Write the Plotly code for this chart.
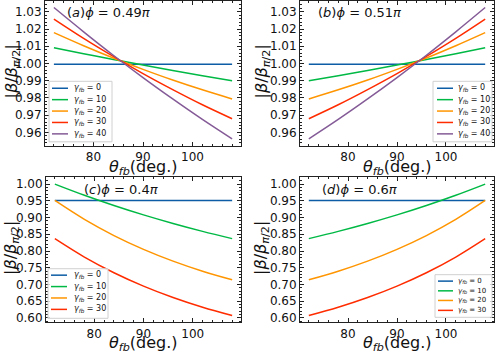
import plotly.graph_objects as go

# theta_fb sample points (deg.)
theta = [72, 78, 84, 90, 96, 102, 108]

# (a) phi = 0.49 pi
a_g0 = [0.9995, 0.9995, 0.9995, 0.9995, 0.9995, 0.9995, 0.9995]
a_g10 = [1.0092, 1.0057, 1.0023, 0.9991, 0.9959, 0.9929, 0.9900]
a_g20 = [1.0179, 1.0103, 1.0032, 0.9966, 0.9904, 0.9847, 0.9794]
a_g30 = [1.0258, 1.0146, 1.0041, 0.9941, 0.9848, 0.9760, 0.9679]
a_g40 = [1.0325, 1.0184, 1.0048, 0.9918, 0.9794, 0.9675, 0.9562]

# (b) phi = 0.51 pi
b_g0 = [0.9995, 0.9995, 0.9995, 0.9995, 0.9995, 0.9995, 0.9995]
b_g10 = [0.9900, 0.9929, 0.9959, 0.9991, 1.0023, 1.0057, 1.0092]
b_g20 = [0.9794, 0.9847, 0.9904, 0.9966, 1.0032, 1.0103, 1.0179]
b_g30 = [0.9679, 0.9760, 0.9848, 0.9941, 1.0041, 1.0146, 1.0258]
b_g40 = [0.9562, 0.9675, 0.9794, 0.9918, 1.0048, 1.0184, 1.0325]

# (c) phi = 0.4 pi
c_g0 = [0.951, 0.951, 0.951, 0.951, 0.951, 0.951, 0.951]
c_g10 = [1.000, 0.9666, 0.9360, 0.9079, 0.8822, 0.8586, 0.8370]
c_g20 = [0.951, 0.8945, 0.8462, 0.8050, 0.7698, 0.7397, 0.7140]
c_g30 = [0.837, 0.7820, 0.7351, 0.6951, 0.6610, 0.6319, 0.6071]

# (d) phi = 0.6 pi
d_g0 = [0.951, 0.951, 0.951, 0.951, 0.951, 0.951, 0.951]
d_g10 = [0.8370, 0.8586, 0.8822, 0.9079, 0.9360, 0.9666, 1.000]
d_g20 = [0.7140, 0.7397, 0.7698, 0.8050, 0.8462, 0.8945, 0.951]
d_g30 = [0.6071, 0.6319, 0.6610, 0.6951, 0.7351, 0.7820, 0.837]

gammas = ["0", "10", "20", "30", "40"]
colors = ["#0C5DA5", "#00B945", "#FF9500", "#FF2C00", "#845B97"]

panels = [
    ("x", "y", [a_g0, a_g10, a_g20, a_g30, a_g40]),
    ("x2", "y2", [b_g0, b_g10, b_g20, b_g30, b_g40]),
    ("x3", "y3", [c_g0, c_g10, c_g20, c_g30]),
    ("x4", "y4", [d_g0, d_g10, d_g20, d_g30]),
]

W, H = 499, 357
FONT = "DejaVu Sans"
INK = "#111"

fig = go.Figure()
for xa, ya, series in panels:
    for i, vals in enumerate(series):
        fig.add_trace(go.Scatter(
            x=theta, y=vals, mode="lines", xaxis=xa, yaxis=ya, showlegend=False,
            line=dict(color=colors[i], width=1.5, shape="spline"),
            name="γfb = " + gammas[i],
        ))

# plot boxes in pixels (left, right, top, bottom)
boxes = {
    "1": (45, 241, 1, 147),
    "2": (300, 494, 1, 147),
    "3": (46, 241, 179, 325),
    "4": (300, 494, 179, 325),
}
yranges = {"1": [0.9522, 1.0363], "2": [0.9522, 1.0363],
           "3": [0.587, 1.0197], "4": [0.587, 1.0197]}
ydt = {"1": (0.01, 0.002), "2": (0.01, 0.002), "3": (0.05, 0.01), "4": (0.05, 0.01)}

axis_common = dict(
    showline=True, linecolor="#222", linewidth=1, mirror="allticks",
    ticks="inside", ticklen=4, tickcolor="#222", showgrid=False, zeroline=False,
    tickfont=dict(family=FONT, size=12, color=INK),
)

layout = {}
for k, (l, r, t, b) in boxes.items():
    sx = "" if k == "1" else k
    layout["xaxis" + sx] = dict(
        axis_common, domain=[l / W, r / W], anchor="y" + sx, range=[70.2, 109.8],
        tickvals=[80, 90, 100],
        minor=dict(dtick=2, tick0=70, ticks="inside", ticklen=2, tickcolor="#222"),
    )
    layout["yaxis" + sx] = dict(
        axis_common, domain=[1 - b / H, 1 - t / H], anchor="x" + sx, range=yranges[k],
        dtick=ydt[k][0], tickformat=".2f",
        minor=dict(dtick=ydt[k][1], ticks="inside", ticklen=2, tickcolor="#222"),
    )

fig.update_layout(
    width=W, height=H, margin=dict(l=0, r=0, t=0, b=0),
    plot_bgcolor="white", paper_bgcolor="white", showlegend=False,
    font=dict(family=FONT, color=INK),
    **layout,
)


def px(x):
    return x / W


def py(y):
    return 1 - y / H


# compact legends drawn like matplotlib's (box, short line, label)
def draw_legend(box, rows, lx0, lx1, tx, n, size):
    x0, y0, x1, y1 = box
    fig.add_shape(type="rect", xref="paper", yref="paper",
                  x0=px(x0), x1=px(x1), y0=py(y1), y1=py(y0),
                  line=dict(color="#d0d0d0", width=1), fillcolor="rgba(255,255,255,0.8)",
                  layer="above")
    for i in range(n):
        fig.add_shape(type="line", xref="paper", yref="paper",
                      x0=px(lx0), x1=px(lx1), y0=py(rows[i]), y1=py(rows[i]),
                      line=dict(color=colors[i], width=1.5), layer="above")
        fig.add_annotation(text="<i>γ<sub>fb</sub></i> = " + gammas[i],
                           x=px(tx), y=py(rows[i]), xref="paper", yref="paper",
                           xanchor="left", yanchor="middle", showarrow=False,
                           font=dict(family=FONT, size=size, color=INK))


rows5 = [89, 100.5, 112, 123.5, 135]
draw_legend((49, 82, 112, 143), rows5, 52, 68, 72, 5, 8)
draw_legend((433, 82, 492, 143), rows5, 437, 453, 456, 5, 8)
draw_legend((48, 271, 108, 321), [277.5, 289, 300.5, 312], 51, 67, 72, 4, 8)
draw_legend((435, 277, 492, 320), [283.5, 293.3, 303, 313], 438, 453, 456, 4, 7)

labels = [
    ("(<i>a</i>)<i>ϕ</i> = 0.49<i>π</i>", 65, 13),
    ("(<i>b</i>)<i>ϕ</i> = 0.51<i>π</i>", 316, 13),
    ("(<i>c</i>)<i>ϕ</i> = 0.4<i>π</i>", 82, 191),
    ("(<i>d</i>)<i>ϕ</i> = 0.6<i>π</i>", 320, 191),
]
for txt, lx, ly in labels:
    fig.add_annotation(text=txt, x=px(lx), y=py(ly), xref="paper", yref="paper",
                       xanchor="left", yanchor="middle", showarrow=False,
                       font=dict(family=FONT, size=13, color=INK))

# axis titles
ytitle = "|<i>β</i>/<i>β</i><sub><i>π</i>/2</sub>|"
xtitle = "<i>θ<sub>fb</sub></i>(deg.)"
for cx, cy in [(12, 72), (262, 72), (12, 250), (262, 250)]:
    fig.add_annotation(text=ytitle, x=px(cx), y=py(cy), xref="paper", yref="paper",
                       textangle=-90, showarrow=False, xanchor="center", yanchor="middle",
                       font=dict(family=FONT, size=16, color=INK))
for cx, cy in [(143, 156), (397, 156), (143, 334), (397, 334)]:
    fig.add_annotation(text=xtitle, x=px(cx), y=py(cy), xref="paper", yref="paper",
                       showarrow=False, xanchor="center", yanchor="top",
                       font=dict(family=FONT, size=16, color=INK))

# drop the default page margin so the figure sits at the window's top-left corner
fig.write_html("out.html", config={"displayModeBar": False},
               post_script="document.body.style.margin='0px';")
